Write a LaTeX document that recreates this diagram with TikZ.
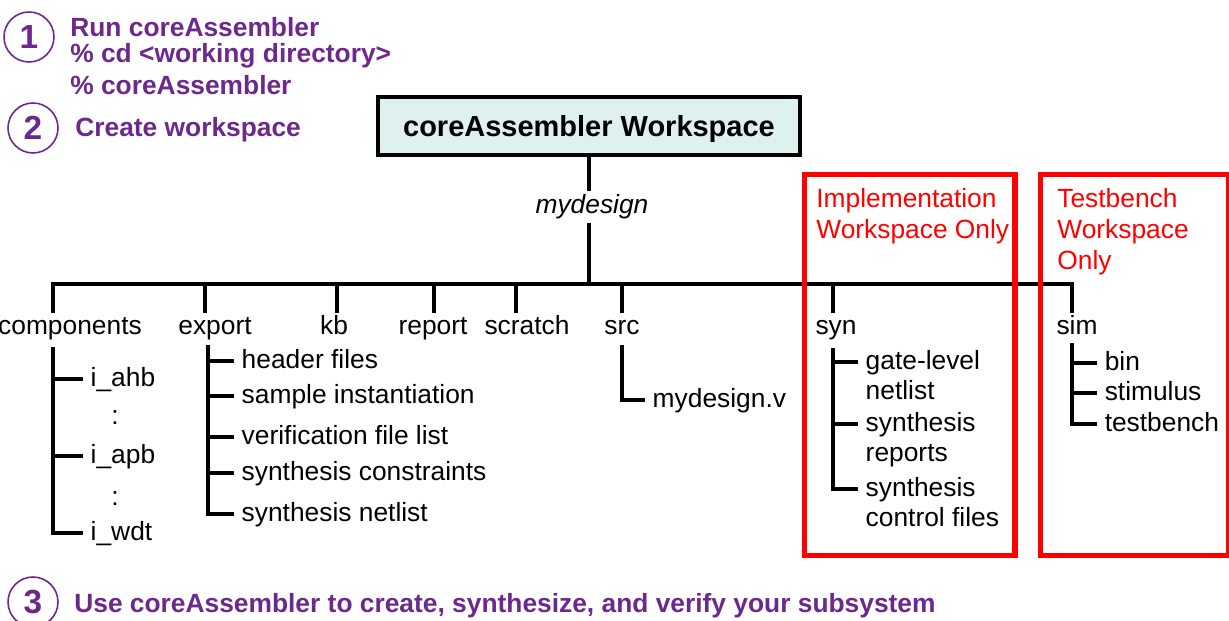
\documentclass[tikz,border=0pt]{standalone}
\usepackage{fontspec}
\setmainfont{Liberation Sans}
\usetikzlibrary{positioning}
\definecolor{steppurple}{RGB}{108,40,140}
\definecolor{wsfill}{RGB}{222,241,238}
\definecolor{zonered}{RGB}{255,0,0}
\newcommand{\leaflines}[1]{\begin{tabular}[t]{@{}l@{}}#1\end{tabular}}

\begin{document}
\begin{tikzpicture}[
    x=0.02cm, y=-0.02cm,
    tree/.style={line width=2pt, draw=black},
    stepnum/.style={circle, draw=steppurple, line width=0.9pt, minimum size=1cm, inner sep=0pt, text=steppurple, font=\fontsize{19}{20}\selectfont\bfseries},
    steptext/.style={anchor=base west, inner sep=0pt, text=steppurple, font=\fontsize{15}{18}\selectfont\bfseries},
    wsbox/.style={rectangle, draw=black, line width=1.8pt, fill=wsfill, minimum width=8.44cm, minimum height=1.16cm, text depth=0pt, font=\fontsize{16.5}{19}\selectfont\bfseries},
    dir/.style={anchor=base, inner sep=1pt, text height=11pt, font=\fontsize{15}{18}\selectfont},
    leaf/.style={anchor=west, inner xsep=4.2pt, inner ysep=0pt, text height=9pt, text depth=0pt, font=\fontsize{15}{17}\selectfont},
    zone/.style={draw=zonered, line width=3.2pt},
    zonetext/.style={anchor=base west, inner sep=0pt, text=zonered, font=\fontsize{15}{17.6}\selectfont},
]
\useasboundingbox (0,0) rectangle (1229,621);

% Steps
\node[stepnum] (n1) at (29,37) {1};
\node[steptext] (s1a) at (70,37) {Run coreAssembler};
\node[steptext] (s1b) at (70,63) {\% cd <working directory>};
\node[steptext] (s1c) at (70,95) {\% coreAssembler};
\node[stepnum] (n2) at (33,128) {2};
\node[steptext] (s2) at (75,137) {Create workspace};
\node[stepnum] (n3) at (33,602) {3};
\node[steptext] (s3) at (74,612) {Use coreAssembler to create, synthesize, and verify your subsystem};

% Workspace root
\node[wsbox] (ws) at (589,126) {coreAssembler Workspace};
\node[dir, inner sep=2pt, font=\fontsize{15}{18}\selectfont\itshape] (mydesign) at (592,214) {mydesign};

\coordinate (busL) at (53,284);
\coordinate (busR) at (1072,284);
\draw[tree] (ws.south) -- (ws.south |- mydesign.north);
\draw[tree] (ws.south |- mydesign.south) -- (ws.south |- busL);

% Top level directories
\node[dir] (components) at (70,334) {components};
\node[dir] (export) at (215,334) {export};
\node[dir] (kb) at (334,334) {kb};
\node[dir] (report) at (433,334) {report};
\node[dir] (scratch) at (527,334) {scratch};
\node[dir] (src) at (622,334) {src};
\node[dir] (syn) at (836,334) {syn};
\node[dir] (sim) at (1077,334) {sim};

\coordinate (dExport) at (205,284);
\coordinate (dKb) at (337,284);
\coordinate (dReport) at (434,284);
\coordinate (dScratch) at (516,284);
\coordinate (dSrc) at (622,284);
\coordinate (dSyn) at (833,284);

\draw[tree] (components.north -| busL) -- (busL) -- (busR) -- (busR |- sim.north);
\draw[tree] (dExport) -- (dExport |- export.north);
\draw[tree] (dKb) -- (dKb |- kb.north);
\draw[tree] (dReport) -- (dReport |- report.north);
\draw[tree] (dScratch) -- (dScratch |- scratch.north);
\draw[tree] (dSrc) -- (dSrc |- src.north);
\draw[tree] (dSyn) -- (dSyn |- syn.north);

% components
\coordinate (cTop) at (53,347);
\node[leaf] (ahb) at (83,379) {i\_ahb};
\node[leaf] (apb) at (83,456) {i\_apb};
\node[leaf] (wdt) at (83,533) {i\_wdt};
\node[dir, inner sep=0pt, text height=] (dots1) at (115,424) {:};
\node[dir, inner sep=0pt, text height=] (dots2) at (115,505) {:};
\draw[tree] (cTop) |- (wdt.west);
\draw[tree] (cTop |- ahb.west) -- (ahb.west);
\draw[tree] (cTop |- apb.west) -- (apb.west);

% export
\coordinate (eTop) at (208,345);
\node[leaf] (hdr) at (234,361) {header files};
\node[leaf] (inst) at (234,396) {sample instantiation};
\node[leaf] (vlist) at (234,437) {verification file list};
\node[leaf] (scon) at (234,473) {synthesis constraints};
\node[leaf] (snet) at (234,514) {synthesis netlist};
\draw[tree] (eTop) |- (snet.west);
\draw[tree] (eTop |- hdr.west) -- (hdr.west);
\draw[tree] (eTop |- inst.west) -- (inst.west);
\draw[tree] (eTop |- vlist.west) -- (vlist.west);
\draw[tree] (eTop |- scon.west) -- (scon.west);

% src
\coordinate (srcTop) at (622,345);
\node[leaf] (srcv) at (645,400) {mydesign.v};
\draw[tree] (srcTop) |- (srcv.west);

% syn
\coordinate (synTop) at (833,348);
\node[leaf] (gate) at (858,362) {\leaflines{gate-level\\netlist}};
\node[leaf] (synrep) at (858,424) {\leaflines{synthesis\\reports}};
\node[leaf] (synctl) at (858,489) {\leaflines{synthesis\\control files}};
\draw[tree] (synTop) |- (synctl.west);
\draw[tree] (synTop |- gate.west) -- (gate.west);
\draw[tree] (synTop |- synrep.west) -- (synrep.west);

% sim
\coordinate (simTop) at (1072,343);
\node[leaf] (bin) at (1097,363) {bin};
\node[leaf] (stim) at (1097,393) {stimulus};
\node[leaf] (tb) at (1097,424) {testbench};
\draw[tree] (simTop) |- (tb.west);
\draw[tree] (simTop |- bin.west) -- (bin.west);
\draw[tree] (simTop |- stim.west) -- (stim.west);

% Workspace only zones
\draw[zone] (804.5,174.5) rectangle (1015,555.5);
\draw[zone] (1040.5,174.5) rectangle (1228.5,555.5);
\node[zonetext] (implnote) at (816,208) {\leaflines{Implementation\\Workspace Only}};
\node[zonetext] (tbnote) at (1057,208) {\leaflines{Testbench\\Workspace\\Only}};

\end{tikzpicture}
\end{document}
